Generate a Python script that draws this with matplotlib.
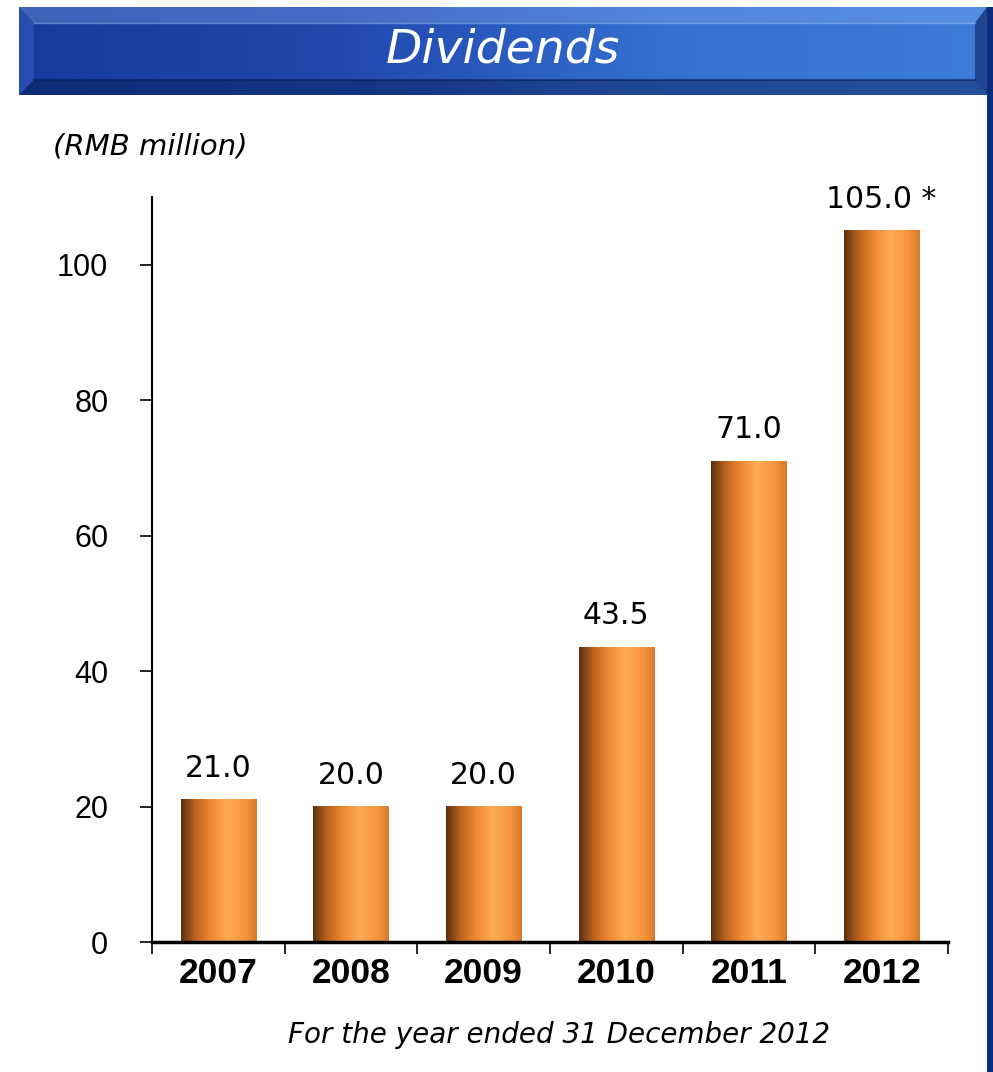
import numpy as np
import matplotlib
matplotlib.use('Agg')
from matplotlib import pyplot as plt
from matplotlib.colors import LinearSegmentedColormap
from matplotlib.patches import Polygon, Rectangle

years = ['2007', '2008', '2009', '2010', '2011', '2012']
dividends = [21.0, 20.0, 20.0, 43.5, 71.0, 105.0]
labels = ['21.0', '20.0', '20.0', '43.5', '71.0', '105.0 *']

plt.rcParams['font.family'] = ['DejaVu Sans']

W, H = 993, 1072
fig = plt.figure(figsize=(9.93, 10.72), dpi=100)
fig.patch.set_facecolor('white')

# background layer in pixel coords (banner + right frame)
bg = fig.add_axes([0, 0, 1, 1])
bg.set_xlim(0, W)
bg.set_ylim(H, 0)
bg.axis('off')

L, R, T, B = 19, 987, 7, 95   # banner outer box
il, ir, it, ib = 34, 975, 23, 80   # inner face
blue = LinearSegmentedColormap.from_list('blue', ['#163a9c', '#2148ae', '#3470d0', '#3d7cda'])
grad = np.tile(np.linspace(0, 1, 256), (20, 1))
bg.imshow(grad, cmap=blue, aspect='auto', extent=[L, R, B, T], zorder=1)
# bevels
bg.add_patch(Polygon([[L, T], [R, T], [ir, it], [il, it]], closed=True, color='#8ab0f0', alpha=0.35, lw=0, zorder=2))
bg.add_patch(Polygon([[L, T], [il, it], [il, ib], [L, B]], closed=True, color='#5a86e0', alpha=0.25, lw=0, zorder=2))
bg.add_patch(Polygon([[L, B], [il, ib], [ir, ib], [R, B]], closed=True, color='#061a50', alpha=0.45, lw=0, zorder=2))
bg.add_patch(Polygon([[R, T], [R, B], [ir, ib], [ir, it]], closed=True, color='#061a50', alpha=0.55, lw=0, zorder=2))
bg.plot([il, ir], [ib, ib], color='#0a1f5a', lw=1.5, alpha=0.6, zorder=3)
bg.plot([il, ir], [it, it], color='#a8c4f4', lw=1, alpha=0.5, zorder=3)
bg.add_patch(Rectangle((R, T), W - R, H - T, color='#0c2c80', lw=0, zorder=3))
bg.text((L + R) / 2, 50, 'Dividends', color='white', fontsize=34, style='italic',
        ha='center', va='center', zorder=4)

# chart
ax = fig.add_axes([152 / W, 1 - 942 / H, 796 / W, 745 / H])
x = np.arange(len(years))
bar_w = 0.57

cyl = LinearSegmentedColormap.from_list('cyl', [
    (0.0, '#5a3010'), (0.18, '#b8621e'), (0.4, '#f18a34'),
    (0.62, '#ffac55'), (0.85, '#f5953d'), (1.0, '#d97a2a')])
cgrad = np.tile(np.linspace(0, 1, 128), (2, 1))

bars = ax.bar(x, dividends, width=bar_w, color='none', edgecolor='none', zorder=2)
for b in bars:
    x0, y0 = b.get_x(), b.get_y()
    ax.imshow(cgrad, cmap=cyl, aspect='auto', zorder=2,
              extent=[x0, x0 + b.get_width(), y0, y0 + b.get_height()])

for i, (v, t) in enumerate(zip(dividends, labels)):
    ax.text(i, v + 2.5, t, ha='center', va='bottom', fontsize=21.5)

ax.set_xlim(-0.5, len(years) - 0.5)
ax.set_ylim(0, 110)
ax.set_yticks([0, 20, 40, 60, 80, 100])
for lab in ax.get_yticklabels():
    lab.set_fontfamily('Liberation Sans')
    lab.set_fontsize(22)
ax.set_xticks(np.arange(len(years) + 1) - 0.5)
ax.set_xticklabels([])
ax.set_xticks(x, minor=True)
ax.set_xticklabels(years, minor=True, fontsize=25.5, fontweight='bold',
                   fontfamily='Liberation Sans')
ax.tick_params(axis='x', which='minor', length=0, pad=11)
ax.tick_params(axis='x', which='major', length=8.5, width=1.2, direction='out')
ax.tick_params(axis='y', length=8.5, width=1.2, direction='out', pad=23)
for s in ['top', 'right']:
    ax.spines[s].set_visible(False)
ax.spines['left'].set_linewidth(1.5)
ax.spines['bottom'].set_linewidth(2.5)
ax.set_facecolor('none')

fig.text(53 / W, 1 - 146 / H, '(RMB million)', fontsize=21, style='italic', va='center')
fig.text(559 / W, 1 - 1035 / H, 'For the year ended 31 December 2012', fontsize=20,
         style='italic', ha='center', va='center')

fig.savefig('out.png', dpi=100)
